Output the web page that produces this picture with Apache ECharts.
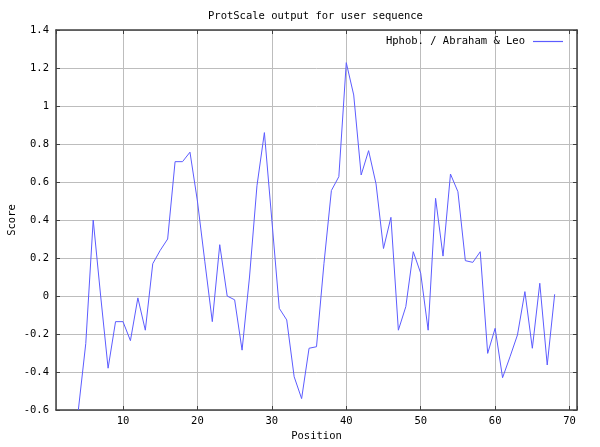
<!DOCTYPE html>
<html>
<head>
<meta charset="utf-8">
<script src="https://cdn.jsdelivr.net/npm/echarts@6/dist/echarts.min.js"></script>
<style>
html,body{margin:0;padding:0;background:#fff;}
#chart{width:600px;height:447px;}
</style>
</head>
<body>
<div id="chart"></div>
<script>
const chartTitle = 'ProtScale output for user sequence';
const seriesName = 'Hphob. / Abraham & Leo';
const xName = 'Position';
const yName = 'Score';
const positions = [4,5,6,7,8,9,10,11,12,13,14,15,16,17,18,19,20,21,22,23,24,25,26,27,28,29,30,31,32,33,34,35,36,37,38,39,40,41,42,43,44,45,46,47,48,49,50,51,52,53,54,55,56,57,58,59,60,61,62,63,64,65,66,67,68];
const scores = [-0.60,-0.25,0.40,0.00,-0.38,-0.135,-0.135,-0.235,-0.01,-0.18,0.17,0.24,0.30,0.707,0.707,0.757,0.50,0.18,-0.135,0.27,0.00,-0.02,-0.285,0.10,0.58,0.86,0.40,-0.065,-0.126,-0.425,-0.54,-0.275,-0.267,0.17,0.555,0.628,1.228,1.058,0.637,0.765,0.59,0.25,0.414,-0.18,-0.056,0.233,0.12,-0.18,0.514,0.21,0.642,0.549,0.186,0.177,0.233,-0.302,-0.17,-0.43,-0.32,-0.205,0.023,-0.275,0.067,-0.363,0.009];
const xRange = [1, 71];
const yRange = [-0.6, 1.4];
const yStep = 0.2;

const font = 'DejaVu Sans Mono';
const borderColor = '#404040';
const gridColor = '#bdbdbd';

const data = positions.map((p, i) => [p, scores[i]]);

function xAxisCfg(pos, labels) {
  return {
    type: 'value', position: pos, min: xRange[0], max: xRange[1], splitNumber: 7,
    name: labels ? xName : '', nameLocation: 'middle', nameGap: 21, nameMoveOverlap: false,
    nameTextStyle: {fontFamily: font, fontSize: 10.5, color: '#000'},
    axisLine: {show: true, onZero: false, lineStyle: {color: borderColor, width: 1.5}},
    axisTick: {show: true, inside: true, length: 4, lineStyle: {color: borderColor}},
    axisLabel: {show: labels, margin: 6, fontFamily: font, fontSize: 10.5, color: '#000',
      formatter: v => (Math.round(v) % 10 === 0 ? String(Math.round(v)) : ''),
      showMinLabel: false, showMaxLabel: true},
    splitLine: {show: labels, lineStyle: {color: gridColor, width: 1}}
  };
}
function yAxisCfg(pos, labels) {
  return {
    type: 'value', position: pos, min: yRange[0], max: yRange[1], interval: yStep,
    name: labels ? yName : '', nameLocation: 'middle', nameGap: 38, nameRotate: 90, nameMoveOverlap: false,
    nameTextStyle: {fontFamily: font, fontSize: 10.5, color: '#000'},
    axisLine: {show: true, onZero: false, lineStyle: {color: borderColor, width: 1.5}},
    axisTick: {show: true, inside: true, length: 4, lineStyle: {color: borderColor}},
    axisLabel: {show: labels, margin: 7, fontFamily: font, fontSize: 10.5, color: '#000',
      formatter: v => String(Number(v.toFixed(1)))},
    splitLine: {show: labels, lineStyle: {color: gridColor, width: 1}}
  };
}

const chart = echarts.init(document.getElementById('chart'), null, {renderer: 'canvas'});
chart.setOption({
  animation: false,
  backgroundColor: '#fff',
  title: {
    text: chartTitle, left: 203, top: 6,
    textStyle: {fontFamily: font, fontSize: 10.5, fontWeight: 'normal', color: '#000'}
  },
  legend: {
    data: [{name: seriesName, icon: 'rect'}],
    right: 32, top: 31, align: 'right',
    itemWidth: 30, itemHeight: 1.2, itemGap: 0,
    textStyle: {fontFamily: font, fontSize: 10.5, color: '#000', padding: [0, 3, 0, 0]},
    selectedMode: false
  },
  grid: {left: 56, right: 23, top: 30, bottom: 37, containLabel: false, outerBoundsMode: 'none'},
  xAxis: [xAxisCfg('bottom', true), xAxisCfg('top', false)],
  yAxis: [yAxisCfg('left', true), yAxisCfg('right', false)],
  series: [{
    name: seriesName, type: 'line', xAxisIndex: 0, yAxisIndex: 0,
    data: data, showSymbol: false, symbol: 'none', clip: true,
    lineStyle: {color: '#5c5cff', width: 1},
    itemStyle: {color: '#5c5cff'}
  }]
});
</script>
</body>
</html>
